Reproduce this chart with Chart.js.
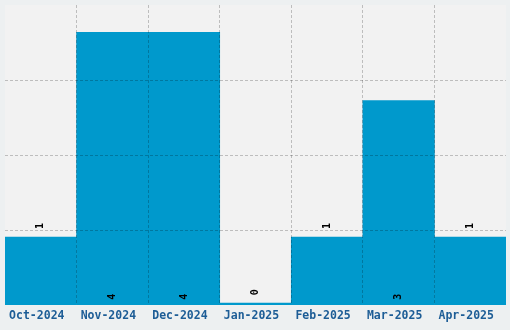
<!DOCTYPE html>
<html>
<head>
<meta charset="utf-8">
<script src="https://cdn.jsdelivr.net/npm/chart.js@4/dist/chart.umd.min.js"></script>
<style>
html,body{margin:0;padding:0;background:#edf0f1;}
#wrap{width:510px;height:330px;position:relative;}
</style>
</head>
<body>
<div id="wrap"><canvas id="c" width="510" height="330"></canvas></div>
<script>
const categories = ['Oct-2024','Nov-2024','Dec-2024','Jan-2025','Feb-2025','Mar-2025','Apr-2025'];
const counts = [1, 4, 4, 0, 1, 3, 1];
const yMax = 4.4;
const yStep = 1.1;

const bgPlugin = {
  id: 'bg',
  beforeDraw(chart) {
    const {ctx, chartArea: a} = chart;
    ctx.save();
    ctx.fillStyle = '#edf0f1';
    ctx.fillRect(0, 0, chart.width, chart.height);
    ctx.fillStyle = '#f2f2f2';
    ctx.fillRect(a.left, a.top, a.right - a.left, a.bottom - a.top);
    ctx.restore();
  }
};

const labelPlugin = {
  id: 'vlabels',
  afterDraw(chart) {
    const {ctx} = chart;
    const meta = chart.getDatasetMeta(0);
    ctx.save();
    ctx.font = 'bold 10px "DejaVu Sans Mono", monospace';
    ctx.fillStyle = '#000';
    ctx.textAlign = 'left';
    ctx.textBaseline = 'middle';
    meta.data.forEach((bar, i) => {
      const v = counts[i];
      const y = v < 2 ? bar.y - 8 : bar.base - 5;
      ctx.save();
      ctx.translate(bar.x, y);
      ctx.rotate(-Math.PI / 2);
      ctx.fillText(String(v), 0, 0);
      ctx.restore();
    });
    ctx.restore();
  }
};

const gridColor = 'rgba(0,0,0,0.22)';
const clear = 'rgba(0,0,0,0)';

new Chart(document.getElementById('c'), {
  type: 'bar',
  data: {
    labels: categories,
    datasets: [{
      data: counts,
      backgroundColor: '#0099cc',
      borderWidth: 0,
      barPercentage: 1,
      categoryPercentage: 1,
      minBarLength: 2
    }]
  },
  options: {
    responsive: false,
    animation: false,
    devicePixelRatio: 1,
    layout: { padding: { left: 5, right: 4, top: 5, bottom: 3 } },
    plugins: { legend: { display: false }, tooltip: { enabled: false } },
    scales: {
      x: {
        border: { display: false, dash: [3, 2] },
        grid: {
          z: 1,
          offset: true,
          drawTicks: false,
          lineWidth: 1,
          color: (c) => (c.type !== 'tick' || c.index === 0 || c.index >= categories.length) ? clear : gridColor
        },
        ticks: {
          padding: 4,
          labelOffset: -4,
          color: '#1d5d96',
          font: { family: '"DejaVu Sans Mono", monospace', size: 11.5, weight: 'bold' }
        }
      },
      y: {
        min: 0,
        max: yMax,
        border: { display: false, dash: [3, 2] },
        ticks: { display: false, stepSize: yStep },
        grid: {
          z: 1,
          drawTicks: false,
          color: (c) => (c.type !== 'tick' || c.tick.value <= 0.001 || c.tick.value >= yMax - 0.001) ? clear : gridColor
        }
      }
    }
  },
  plugins: [bgPlugin, labelPlugin]
});
</script>
</body>
</html>
